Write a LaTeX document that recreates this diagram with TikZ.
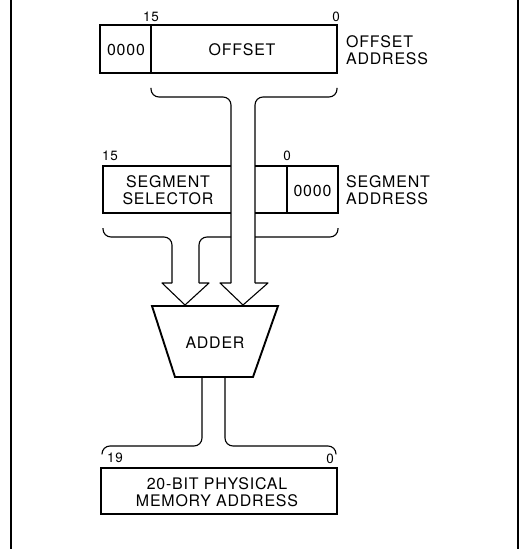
\documentclass[tikz,border=0pt]{standalone}
\usepackage{fontspec}
\setmainfont{TeX Gyre Heros}[LetterSpace=5]
\begin{document}
\begin{tikzpicture}[x=1bp,y=-1bp,
  regbox/.style={draw, line width=1.8bp, inner sep=0pt, outer sep=0pt},
  bus/.style={line width=1.1bp, line join=round},
  lbl/.style={inner sep=0pt, font=\fontsize{16}{17}\selectfont},
  bitno/.style={inner sep=0pt, font=\fontsize{13.5}{14}\selectfont}]
\useasboundingbox (0,0) rectangle (519,549);

% outer frame rules
\draw[line width=1.3bp] (11,0) -- (11,549);
\draw[line width=1.3bp] (518,0) -- (518,549);

% offset register
\node[regbox, minimum width=237bp, minimum height=48bp] (off) at (218.5,49) {};
\coordinate (offdiv) at (151,25);
\draw[line width=1.2bp] (offdiv) -- (151,73);
\node[lbl] at (126,49.5) {0000};
\node[lbl] at (242,49.5) {OFFSET};
\node[bitno] at (151,16.5) {15};
\node[bitno] at (336,16.5) {0};
\node[lbl, anchor=west, align=left] at (346,50) {OFFSET\\ADDRESS};

% segment register
\node[regbox, minimum width=235bp, minimum height=47bp] (seg) at (220.5,189.5) {};
\draw[line width=1.2bp] (287,166) -- (287,213);
\node[lbl, align=center] at (168,190) {SEGMENT\\SELECTOR};
\node[lbl] at (312.5,190.5) {0000};
\node[bitno] at (110,156) {15};
\node[bitno] at (287,156) {0};
\node[lbl, anchor=west, align=left] at (346,190) {SEGMENT\\ADDRESS};

% offset bus passes over the segment register
\fill[white] (231,160) rectangle (255,283);
\draw[bus, rounded corners=8bp] (151,88) |- (231,97) -- (231,283);
\draw[bus] (231,283) -- (220,283) -- (243,305) -- (268,283) -- (255,283);
\draw[bus, rounded corners=8bp] (255,283) -- (255,97) -| (337,88);

% segment bus
\draw[bus, rounded corners=8bp] (103,228) |- (172,237) -- (172,283);
\draw[bus] (172,283) -- (162,283) -- (185,305) -- (209,283) -- (199,283);
\draw[bus, rounded corners=8bp] (199,283) |- (231,237);
\draw[bus, rounded corners=8bp] (255,237) -| (338,228);

% adder
\draw[line width=1.9bp, line join=miter] (152,306) coordinate (addtl) -- (278,306)
  -- (253,377) coordinate (addbr) -- (175,377) -- cycle;
\node[lbl] (adder) at (215,343) {ADDER};

% result bus
\draw[bus, rounded corners=8bp] (202,377) |- (102,446) -- (102,454);
\draw[bus, rounded corners=8bp] (225,377) |- (336,446) -- (336,454);
\node[bitno] at (115,458) {19};
\node[bitno] at (330,459) {0};

% physical address register
\node[regbox, minimum width=236bp, minimum height=46bp] (phys) at (219,491) {};
\node[lbl, align=center] at (217,492.5) {20-BIT PHYSICAL\\MEMORY ADDRESS};
\end{tikzpicture}
\end{document}
